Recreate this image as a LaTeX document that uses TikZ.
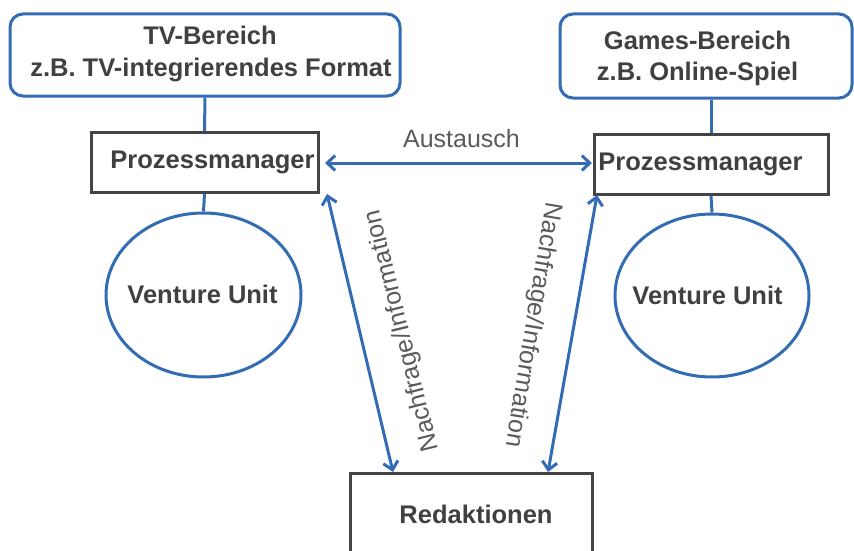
\documentclass[tikz,border=0pt]{standalone}
\usepackage{fontspec}
\setmainfont{Liberation Sans}
\usetikzlibrary{shapes.geometric,arrows.meta}

\definecolor{linkblue}{RGB}{52,108,180}
\definecolor{boxgray}{RGB}{68,68,68}
\definecolor{txtgray}{RGB}{64,64,64}
\definecolor{lblgray}{RGB}{90,90,90}

\tikzset{
  area/.style={draw=linkblue, line width=3pt, rounded corners=13pt, inner sep=0pt},
  mgr/.style={draw=boxgray, line width=3pt, inner sep=0pt},
  unit/.style={ellipse, draw=linkblue, line width=3pt, inner sep=0pt},
  headtxt/.style={text=txtgray, font=\fontsize{25.5}{30}\selectfont\bfseries, inner sep=0pt, anchor=base},
  flowtxt/.style={text=lblgray, font=\fontsize{25}{30}\selectfont, inner sep=0pt},
  link/.style={draw=linkblue, line width=3pt},
  flow/.style={link, {Straight Barb[length=8pt,width=15pt,line width=3pt]}-{Straight Barb[length=8pt,width=15pt,line width=3pt]}}
}

\begin{document}
\begin{tikzpicture}[x=1pt, y=-1pt]
\useasboundingbox (0,0) rectangle (854,551);

% upper areas
\node[area, minimum width=390pt, minimum height=82pt] (tv) at (205,55) {};
\node[area, minimum width=292pt, minimum height=84pt] (games) at (706,56) {};
\node[headtxt] (tvA) at (210,45) {TV-Bereich};
\node[headtxt] (tvB) at (211,77) {z.B. TV-integrierendes Format};
\node[headtxt] (gmA) at (697.5,50) {Games-Bereich};
\node[headtxt] (gmB) at (697.5,81) {z.B. Online-Spiel};

% process managers
\node[mgr, minimum width=227pt, minimum height=60pt] (pmL) at (204.5,162.5) {};
\node[mgr, minimum width=234pt, minimum height=60pt] (pmR) at (711,164) {};
\node[headtxt] (pmLt) at (212.5,168) {Prozessmanager};
\node[headtxt] (pmRt) at (700.5,170) {Prozessmanager};

% venture units
\node[unit, minimum width=195pt, minimum height=164pt] (vuL) at (203.5,295) {};
\node[unit, minimum width=194pt, minimum height=163pt] (vuR) at (712,295.5) {};
\node[headtxt] (vuLt) at (202.5,303) {Venture Unit};
\node[headtxt] (vuRt) at (707.5,304) {Venture Unit};

% editorial offices
\node[mgr, minimum width=242pt, minimum height=92pt] (red) at (471,519) {};
\node[headtxt] (redt) at (476,523) {Redaktionen};

% vertical links
\draw[link] (tv.south) -- (pmL.north);
\draw[link] (pmL.south) -- (vuL.north);
\draw[link] (pmR.north |- games.south) -- (pmR.north);
\draw[link] (pmR.south) -- (vuR.north);

% exchange between managers
\coordinate (exL) at (325,163);
\coordinate (exR) at (592,163);
\draw[flow] (exL) -- (exR);
\node[flowtxt, anchor=base] (exT) at (461.5,147) {Austausch};

% requests to the editorial offices
\coordinate (qL1) at (327,194);
\coordinate (qL2) at (393,472);
\coordinate (qR1) at (597,195);
\coordinate (qR2) at (548,472);
\draw[flow] (qL1) -- (qL2);
\draw[flow] (qR1) -- (qR2);
\node[flowtxt, rotate=103.9] (qLt) at (402.5,331) {Nachfrage/Information};
\node[flowtxt, rotate=-99.5] (qRt) at (532.5,325) {Nachfrage/Information};
\end{tikzpicture}
\end{document}
